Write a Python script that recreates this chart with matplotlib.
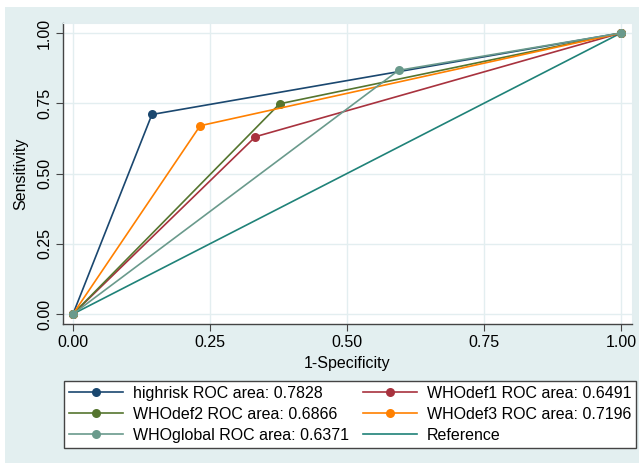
import matplotlib
matplotlib.use("Agg")
import matplotlib.pyplot as plt
from matplotlib.patches import Rectangle
from matplotlib.lines import Line2D

plt.rcParams['font.family'] = ['Liberation Sans', 'DejaVu Sans']

# Data: ROC points (1-specificity, sensitivity)
names = ["highrisk", "WHOdef1", "WHOdef2", "WHOdef3", "WHOglobal"]
aucs = ["0.7828", "0.6491", "0.6866", "0.7196", "0.6371"]
fpr_mid = [0.144, 0.333, 0.377, 0.232, 0.594]
tpr_mid = [0.710, 0.631, 0.748, 0.670, 0.867]
colors = ["#1a476f", "#a8323e", "#55752f", "#ff8000", "#6a9a8c"]
ref_color = "#1f8278"
ticks = [0.0, 0.25, 0.5, 0.75, 1.0]
tick_labels = ["0.00", "0.25", "0.50", "0.75", "1.00"]

W, H = 639, 467
fig = plt.figure(figsize=(W / 100, H / 100), dpi=100)
fig.patch.set_facecolor("white")
bg = "#e3eff0"
fig.patches.append(Rectangle((5 / W, 4 / H), (W - 5) / W, (H - 4 - 7) / H,
                             transform=fig.transFigure, facecolor=bg,
                             edgecolor="none", zorder=-10))

ax_l, ax_r, ax_t, ax_b = 63, 632, 23, 324
ax = fig.add_axes([ax_l / W, 1 - ax_b / H, (ax_r - ax_l) / W, (ax_b - ax_t) / H])
ax.set_facecolor("white")

# x: 0 -> 73px, 1 -> 621px ; y: 1 -> 33px, 0 -> 314px
xs = 548.0
ys = 281.0
ax.set_xlim((ax_l - 73) / xs, (ax_r - 73) / xs)
ax.set_ylim(-(ax_b - 314) / ys, 1 + (33 - ax_t) / ys)

grid_c = "#e3eef0"
for t in ticks:
    ax.axhline(t, color=grid_c, lw=1.0, zorder=0)
    ax.axvline(t, color=grid_c, lw=1.0, zorder=0)

handles = []
for n, a, fx, ty, c in zip(names, aucs, fpr_mid, tpr_mid, colors):
    ax.plot([0, fx, 1], [0, ty, 1], color=c, lw=1.2, marker="o", ms=6.5,
            markeredgewidth=0, zorder=3)
    handles.append(Line2D([], [], color=c, lw=1.2, marker="o", ms=6.5,
                          markeredgewidth=0, label=f"{n} ROC area: {a}"))
ax.plot([0, 1], [0, 1], color=ref_color, lw=1.2, zorder=2)
handles.append(Line2D([], [], color=ref_color, lw=1.2, label="Reference"))

for s in ["top", "right"]:
    ax.spines[s].set_color("#e3eef0")
for s in ["left", "bottom"]:
    ax.spines[s].set_color("#444444")
    ax.spines[s].set_linewidth(1.0)

ax.set_xticks(ticks)
ax.set_xticklabels(tick_labels, fontsize=11.5)
ax.set_yticks(ticks)
ax.set_yticklabels(tick_labels, fontsize=11.5, rotation=90, va="center")
ax.tick_params(axis="both", length=5, width=0.8, color="#444444", pad=3)
ax.set_xlabel("1-Specificity", fontsize=11.5, labelpad=4)
ax.set_ylabel("Sensitivity", fontsize=11.5, labelpad=6)

# legend: two columns, row-wise order
leg_handles = [handles[i] for i in [0, 2, 4, 1, 3, 5]]
leg = fig.legend(handles=leg_handles, ncol=2, loc="center",
                 bbox_to_anchor=(64 / W, 1 - 452 / H, (636 - 64) / W, (452 - 377) / H),
                 mode="expand", fontsize=11.5, frameon=True, fancybox=False,
                 edgecolor="#444444", framealpha=1, handlelength=3.4,
                 handletextpad=0.6, borderaxespad=0, labelspacing=0.38,
                 columnspacing=0.6, borderpad=0.3)
leg.get_frame().set_linewidth(1.0)

fig.savefig("out.png", dpi=100, facecolor=fig.get_facecolor())
